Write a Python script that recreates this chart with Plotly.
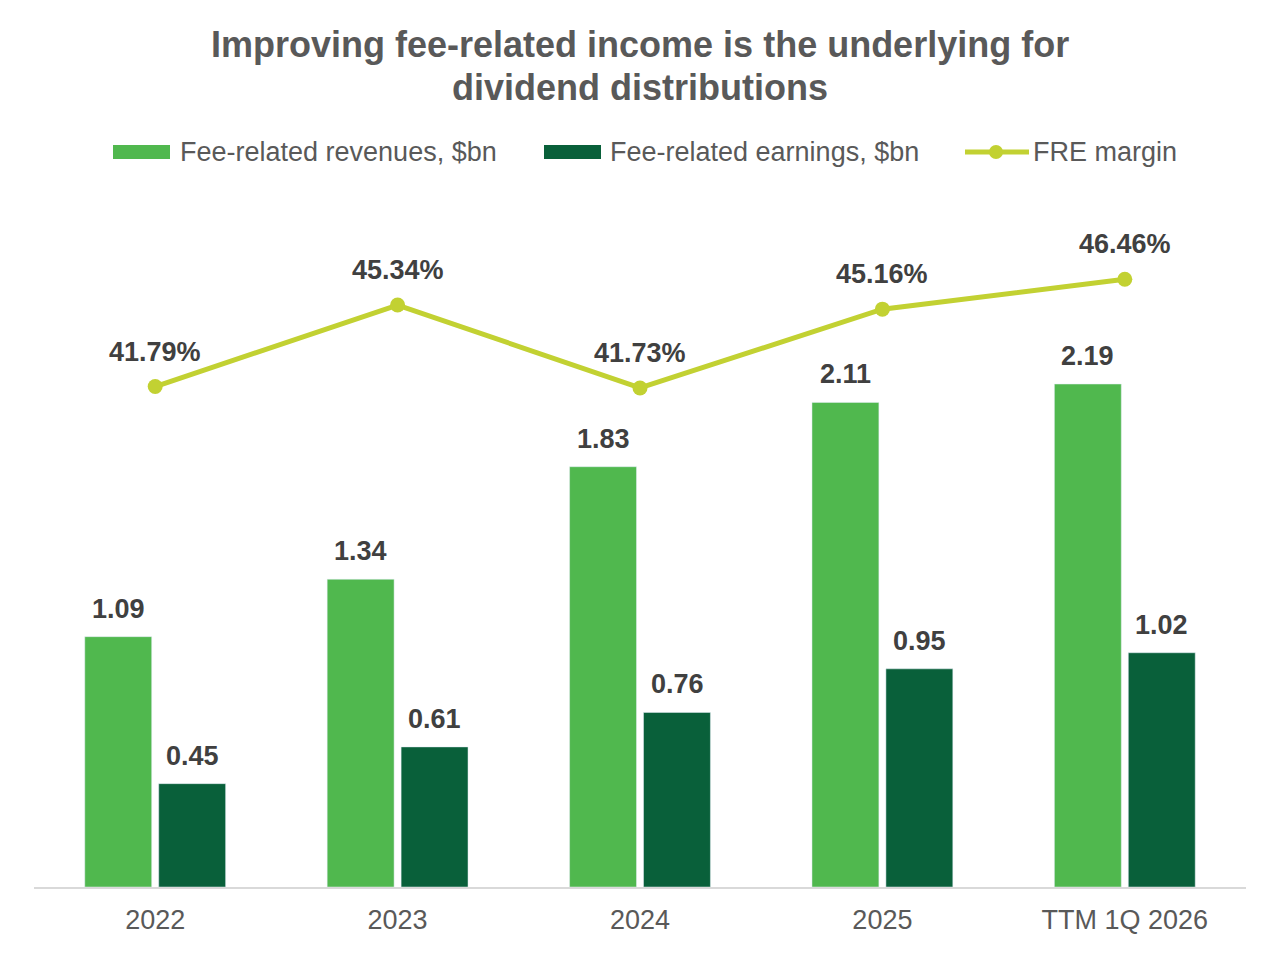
import plotly.graph_objects as go

categories = ["2022", "2023", "2024", "2025", "TTM 1Q 2026"]
revenues = [1.09, 1.34, 1.83, 2.11, 2.19]
earnings = [0.45, 0.61, 0.76, 0.95, 1.02]
margin = [41.79, 45.34, 41.73, 45.16, 46.46]
series_names = ["Fee-related revenues, $bn", "Fee-related earnings, $bn", "FRE margin"]
title_lines = ["Improving fee-related income is the underlying for", "dividend distributions"]

C_REV = "#50B84E"
C_EARN = "#09603A"
C_LINE = "#C2D132"
C_LABEL = "#404040"
C_TEXT = "#595959"
FONT = "Liberation Sans, Arial, sans-serif"

W, H = 1280, 954
ML, MR, MT, MB = 34, 34, 198, 67
PW, PH = W - ML - MR, H - MT - MB

xpos = list(range(len(categories)))


def px_x(px):
    return (px - ML) / PW


def px_y(py):
    return (H - MB - py) / PH


fig = go.Figure()
fig.add_trace(go.Bar(x=xpos, y=revenues, name=series_names[0],
                     marker_color=C_REV, showlegend=False))
fig.add_trace(go.Bar(x=xpos, y=earnings, name=series_names[1],
                     marker_color=C_EARN, showlegend=False))
fig.add_trace(go.Scatter(
    x=xpos, y=margin, name=series_names[2], yaxis="y2",
    mode="lines+markers", line=dict(color=C_LINE, width=5),
    marker=dict(color=C_LINE, size=15), cliponaxis=False, showlegend=False,
))

lab_font = dict(family=FONT, size=27, color=C_LABEL, weight="bold")
for i, v in zip(xpos, revenues):
    fig.add_annotation(x=i, y=v, text=f"{v:.2f}", showarrow=False,
                       xshift=-37, yshift=28, font=lab_font)
for i, v in zip(xpos, earnings):
    fig.add_annotation(x=i, y=v, text=f"{v:.2f}", showarrow=False,
                       xshift=37, yshift=28, font=lab_font)
for i, m in zip(xpos, margin):
    fig.add_annotation(x=i, y=m, yref="y2", text=f"{m:.2f}%", showarrow=False,
                       yshift=35, font=lab_font)

# title (two lines)
for line, ty in zip(title_lines, [45, 87]):
    fig.add_annotation(xref="paper", yref="paper", x=0.5, y=px_y(ty), xanchor="center",
                       yanchor="middle", text=line, showarrow=False,
                       font=dict(family=FONT, size=36, color=C_TEXT, weight="bold"))

# manual legend
leg_font = dict(family=FONT, size=27, color=C_TEXT)
leg_y = 152
shapes = []
for (x0, x1, tx, col, name) in [(113, 170, 178, C_REV, series_names[0]),
                                (544, 601, 608, C_EARN, series_names[1])]:
    shapes.append(dict(type="rect", xref="paper", yref="paper",
                       x0=px_x(x0), x1=px_x(x1), y0=px_y(leg_y + 7), y1=px_y(leg_y - 7),
                       fillcolor=col, line=dict(width=0)))
    fig.add_annotation(xref="paper", yref="paper", x=px_x(tx), y=px_y(leg_y), xanchor="left",
                       yanchor="middle", text=name, showarrow=False, font=leg_font)
shapes.append(dict(type="line", xref="paper", yref="paper", x0=px_x(965), x1=px_x(1029),
                   y0=px_y(leg_y), y1=px_y(leg_y), line=dict(color=C_LINE, width=5)))
shapes.append(dict(type="circle", xref="paper", yref="paper", x0=px_x(989), x1=px_x(1003),
                   y0=px_y(leg_y + 7), y1=px_y(leg_y - 7), fillcolor=C_LINE, line=dict(width=0)))
fig.add_annotation(xref="paper", yref="paper", x=px_x(1031), y=px_y(leg_y), xanchor="left",
                   yanchor="middle", text=series_names[2], showarrow=False, font=leg_font)

fig.update_layout(
    width=W, height=H,
    margin=dict(l=ML, r=MR, t=MT, b=MB),
    paper_bgcolor="white", plot_bgcolor="white",
    barmode="group", bargap=0.39, bargroupgap=0.095,
    font=dict(family=FONT, color=C_TEXT),
    shapes=shapes,
    showlegend=False,
    xaxis=dict(type="linear", range=[-0.5, len(categories) - 0.5],
               tickmode="array", tickvals=xpos, ticktext=categories,
               showline=True, linecolor="#D9D9D9", linewidth=2, ticks="",
               tickfont=dict(family=FONT, size=27, color=C_TEXT), showgrid=False,
               zeroline=False, ticklabelstandoff=8),
    yaxis=dict(range=[0, 3], visible=False, showgrid=False),
    yaxis2=dict(range=[20, 50], overlaying="y", visible=False, showgrid=False),
)
fig.write_html("out.html")
